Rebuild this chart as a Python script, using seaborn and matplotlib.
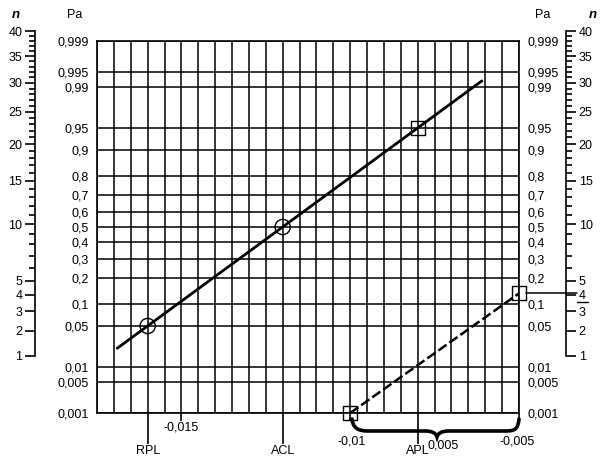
import statistics
import numpy as np
import pandas as pd
import matplotlib
matplotlib.use("Agg")
import matplotlib.pyplot as plt
import matplotlib.transforms as mtransforms
from matplotlib.path import Path
from matplotlib.patches import PathPatch
from matplotlib.lines import Line2D
from matplotlib.ticker import FixedLocator, NullLocator, MultipleLocator
import seaborn as sns

# Pa (probability) axis
pa_ticks = [0.001, 0.005, 0.01, 0.05, 0.1, 0.2, 0.3, 0.4, 0.5, 0.6, 0.7, 0.8,
            0.9, 0.95, 0.99, 0.995, 0.999]
pa_labels = ["0,001", "0,005", "0,01", "0,05", "0,1", "0,2", "0,3", "0,4", "0,5",
             "0,6", "0,7", "0,8", "0,9", "0,95", "0,99", "0,995", "0,999"]

# n scale (both sides)
n_major = [1, 2, 3, 4, 5, 10, 15, 20, 25, 30, 35, 40]
n_minor = [k for k in range(1, 41) if k not in n_major]

# x axis
x_ticks = [-0.015, -0.01, -0.005]
x_labels = ["-0,015", "-0,01", "-0,005"]
limit_x = [-0.016, -0.012, -0.008]
limit_names = ["RPL", "ACL", "APL"]

# points and lines
circle_x = [-0.016, -0.012]
circle_pa = [0.05, 0.5]
square_x = [-0.008, -0.01, -0.005]
square_pa = [0.95, 0.001, 0.135]
solid_x = [-0.0169, -0.0061]
solid_pa = [0.022, 0.9924]
dash_x = [-0.01, -0.005]
dash_pa = [0.001, 0.135]

_nd = statistics.NormalDist()
_ppf = np.vectorize(_nd.inv_cdf, otypes=[float])
_cdf = np.vectorize(_nd.cdf, otypes=[float])


def probit(p):
    p = np.asarray(p, dtype=float)
    out = np.full(p.shape, np.nan)
    ok = np.isfinite(p)
    out[ok] = _ppf(np.clip(p[ok], 1e-12, 1 - 1e-12))
    return out


def inv_probit(z):
    z = np.asarray(z, dtype=float)
    out = np.full(z.shape, np.nan)
    ok = ~np.isnan(z)
    out[ok] = _cdf(z[ok])
    return out


def sq(v):
    return np.sqrt(np.clip(np.asarray(v, dtype=float), 0, None))


def sq_inv(v):
    return np.asarray(v, dtype=float) ** 2


sns.set_style("white", rc={"axes.edgecolor": "black", "xtick.color": "black",
                           "ytick.color": "black", "text.color": "black"})
plt.rcParams["font.family"] = ["Liberation Sans", "DejaVu Sans"]

W, H = 605, 466
fig = plt.figure(figsize=(6.05, 4.66), dpi=100)
ax = fig.add_axes([97 / W, 53 / H, 422 / W, 372 / H])
ax.set_yscale("function", functions=(probit, inv_probit))

sns.lineplot(x=solid_x, y=solid_pa, color="black", lw=2.0, ax=ax)
sns.lineplot(x=dash_x, y=dash_pa, color="black", lw=1.8, linestyle=(0, (4.0, 1.4)), ax=ax)
sns.scatterplot(x=circle_x, y=circle_pa, marker="o", s=120, color="none",
                edgecolor="black", linewidth=1.0, ax=ax, zorder=3, clip_on=False)
sns.scatterplot(x=square_x, y=square_pa, marker="s", s=100, color="none",
                edgecolor="black", linewidth=1.0, ax=ax, zorder=3, clip_on=False)

ax.set_xlim(-0.0175, -0.005)
ax.set_ylim(0.001, 0.999)
ax.set_xlabel("")
ax.set_ylabel("")

# grid
ax.xaxis.set_major_locator(FixedLocator(x_ticks))
ax.xaxis.set_minor_locator(MultipleLocator(0.0005))
ax.yaxis.set_major_locator(FixedLocator(pa_ticks))
ax.yaxis.set_minor_locator(NullLocator())
ax.set_yticklabels(pa_labels)
ax.set_axisbelow(True)
ax.grid(True, which="both", axis="x", color="black", lw=1.1)
ax.grid(True, which="major", axis="y", color="black", lw=1.1)
for s in ax.spines.values():
    s.set_linewidth(1.2)
    s.set_color("black")

ax.tick_params(axis="y", which="both", left=True, right=True, labelleft=True,
               labelright=True, length=0, pad=6, labelsize=9)
ax.tick_params(axis="x", which="major", bottom=True, top=False, labelbottom=False,
               length=5.8, width=1.2, direction="out")
ax.tick_params(axis="x", which="minor", length=0)

sec = ax.secondary_xaxis("bottom")
sec.set_xticks(limit_x, limit_names)
sec.xaxis.set_minor_locator(NullLocator())
sec.tick_params(bottom=True, length=22.3, width=1.2, pad=0.5, labelsize=9)
sec.spines["bottom"].set_visible(False)

# x number labels
px = 0.72
ax.annotate(x_labels[0], xy=(x_ticks[0], 0), xycoords=("data", "axes fraction"),
            xytext=(0, -15 * px), textcoords="offset points", ha="center", va="center", fontsize=9)
ax.annotate(x_labels[1], xy=(x_ticks[1], 0), xycoords=("data", "axes fraction"),
            xytext=(1 * px, -29 * px), textcoords="offset points", ha="center", va="center", fontsize=9)
ax.annotate(x_labels[2], xy=(x_ticks[2], 0), xycoords=("data", "axes fraction"),
            xytext=(-2 * px, -29 * px), textcoords="offset points", ha="center", va="center", fontsize=9)
ax.annotate("0,005", xy=(-0.0075, 0), xycoords=("data", "axes fraction"),
            xytext=(9 * px, -33 * px), textcoords="offset points", ha="center", va="center", fontsize=9)

# brace under the -0,01 .. -0,005 range
def f(xp, yp):
    return (xp / W, 1 - yp / H)

verts = [f(352, 419), f(353, 428), f(358, 431), f(368, 431),
         f(425, 431),
         f(432, 431), f(436, 433), f(437, 437),
         f(438, 433), f(442, 431), f(449, 431),
         f(506, 431),
         f(516, 431), f(518, 428), f(519, 419)]
codes = [Path.MOVETO, Path.CURVE4, Path.CURVE4, Path.CURVE4,
         Path.LINETO,
         Path.CURVE4, Path.CURVE4, Path.CURVE4,
         Path.CURVE4, Path.CURVE4, Path.CURVE4,
         Path.LINETO,
         Path.CURVE4, Path.CURVE4, Path.CURVE4]
fig.add_artist(PathPatch(Path(verts, codes), fill=False, lw=2.6, ec="black",
                         capstyle="round", transform=fig.transFigure))

# connector from last square to the n scale
blend = mtransforms.blended_transform_factory(ax.transAxes, ax.transData)
ax.plot([(526 - 97) / 422, (577 - 97) / 422], [square_pa[2], square_pa[2]],
        color="black", lw=1.1, transform=blend, clip_on=False)
fig.add_artist(Line2D([577 / W, 588 / W], [1 - 302 / H, 1 - 302 / H],
                      color="black", lw=1.0, transform=fig.transFigure))


def n_axis(left, side):
    nax = fig.add_axes([left, 110 / H, 0.0001, 324.8 / H])
    nax.set_yscale("function", functions=(sq, sq_inv))
    nax.set_ylim(1, 40)
    nax.set_xticks([])
    nax.patch.set_visible(False)
    for s in nax.spines.values():
        s.set_visible(False)
    nax.spines[side].set_visible(True)
    nax.spines[side].set_linewidth(1.2)
    nax.yaxis.set_ticks_position(side)
    nax.yaxis.set_major_locator(FixedLocator(n_major))
    nax.yaxis.set_minor_locator(FixedLocator(n_minor))
    nax.set_yticklabels([str(k) for k in n_major])
    nax.tick_params(axis="y", which="major", length=7.2, width=1.2, pad=2, labelsize=9)
    nax.tick_params(axis="y", which="minor", length=4.5, width=1.2)
    return nax


n_axis(35 / W, "left")
n_axis(566 / W - 0.0001, "right")

# headers
hy = 1 - 15 / H
fig.text(15.5 / W, hy, "n", style="italic", weight="bold", ha="center", va="center", fontsize=9.5)
fig.text(74.5 / W, hy, "Pa", ha="center", va="center", fontsize=9)
fig.text(543 / W, hy, "Pa", ha="center", va="center", fontsize=9)
fig.text(593 / W, hy, "n", style="italic", weight="bold", ha="center", va="center", fontsize=9.5)

fig.savefig("out.png", dpi=100)
